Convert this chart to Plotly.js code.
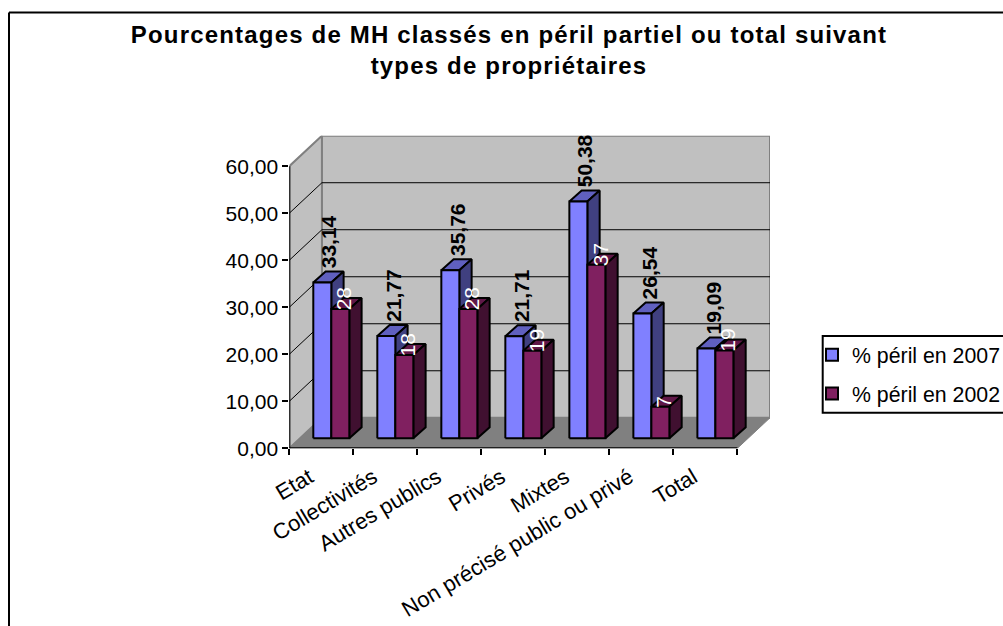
<!DOCTYPE html>
<html>
<head>
<meta charset="utf-8">
<script src="https://cdn.plot.ly/plotly-3.0.1.min.js"></script>
<style>html,body{margin:0;padding:0;background:#fff;overflow:hidden}#chart{width:1003px;height:626px}
.gtitle{letter-spacing:1.18px}</style>
</head>
<body>
<div id="chart"></div>
<script>
// ---------- data ----------
const categories = ["Etat","Collectivités","Autres publics","Privés","Mixtes","Non précisé public ou privé","Total"];
const values2007 = [33.14,21.77,35.76,21.71,50.38,26.54,19.09];
const values2002 = [27.5,17.7,27.5,18.6,36.9,6.7,18.7];
const labels2002 = ["28","18","28","19","37","7","19"];
const seriesNames = ["% péril en 2007","% péril en 2002"];
const yTicks = [0,10,20,30,40,50,60];
const yTickLabels = ["0,00","10,00","20,00","30,00","40,00","50,00","60,00"];
const titleText = "Pourcentages de MH classés en péril partiel ou total suivant<br>types de propriétaires";

// ---------- oblique projection, in axis units ----------
const W = 1003, H = 626;
const plotL = 289.3, plotR = 770, plotB = 448.3, plotT = 135.7;
const wallDx = 32.6/64, wallDy = 30.5/4.7;
const yMax = 60;
const barW = 18/64, barDx = 12.3/64, barDy = 11/4.7, baseX = 10/64, baseY = 10/4.7;
const n = categories.length;

function polys(list){
  const x=[],y=[];
  list.forEach(p=>{p.forEach(q=>{x.push(q[0]);y.push(q[1]);});x.push(p[0][0],null);y.push(p[0][1],null);});
  return {x,y};
}
function face(list,fill,lineColor,lineWidth){
  const p=polys(list);
  return {type:'scatter',mode:'lines',x:p.x,y:p.y,fill:'toself',fillcolor:fill,
    line:{color:lineColor,width:lineWidth},showlegend:false,hoverinfo:'skip',cliponaxis:false,connectgaps:false};
}
function seg(xs,ys,color,width){
  return {type:'scatter',mode:'lines',x:xs,y:ys,line:{color:color,width:width},showlegend:false,hoverinfo:'skip',cliponaxis:false};
}
const traces=[];
// walls and floor
traces.push(face([[[wallDx,wallDy],[n+wallDx,wallDy],[n+wallDx,yMax+wallDy],[wallDx,yMax+wallDy]]],'#C0C0C0','#808080',2));
traces.push(face([[[0,0],[wallDx,wallDy],[wallDx,yMax+wallDy],[0,yMax]]],'#C0C0C0','#808080',2));
traces.push(face([[[0,0],[n,0],[n+wallDx,wallDy],[wallDx,wallDy]]],'#808080','#808080',1));
// gridlines
yTicks.slice(1,-1).forEach(t=>{
  traces.push(seg([0,wallDx,n+wallDx],[t,t+wallDy,t+wallDy],'#000000',1));
});
// bars
function barFaces(vals,shift,front,topC,sideC){
  const tops=[],sides=[],fronts=[];
  vals.forEach((v,i)=>{
    const a=i+0.5+baseX+shift, b=a+barW, y0=baseY, y1=baseY+v;
    fronts.push([[a,y0],[b,y0],[b,y1],[a,y1]]);
    tops.push([[a,y1],[b,y1],[b+barDx,y1+barDy],[a+barDx,y1+barDy]]);
    sides.push([[b,y0],[b+barDx,y0+barDy],[b+barDx,y1+barDy],[b,y1]]);
  });
  traces.push(face(tops,topC,'#000000',2));
  traces.push(face(sides,sideC,'#000000',2));
  traces.push(face(fronts,front,'#000000',2));
}
barFaces(values2007,-barW,'#8080FF','#6060BF','#404080');
barFaces(values2002,0,'#802060','#601848','#401030');
// front axis lines
traces.push(seg([0,0],[0,yMax],'#000000',2));
traces.push(seg([0,n],[0,0],'#000000',2));
// legend keys
function key(label,color,group){
  return {type:'scatter',mode:'markers',x:[null],y:[null],name:label,legendgroup:group,showlegend:true,
    marker:{symbol:'square',size:12,color:color,line:{color:'#000000',width:2}},hoverinfo:'skip'};
}
traces.push(key(seriesNames[0],'#8080FF','a'));
traces.push(key(seriesNames[1],'#802060','b'));

// data labels
const annos=[];
values2007.forEach((v,i)=>{
  annos.push({x:i+0.5+baseX-2/64,y:v+baseY+13/4.7,xref:'x',yref:'y',text:'<b>'+v.toFixed(2).replace('.',',')+'</b>',
    textangle:-90,showarrow:false,xanchor:'center',yanchor:'bottom',borderpad:0,
    font:{family:'Liberation Sans, Arial, sans-serif',size:21,color:'#000000'}});
});
values2002.forEach((v,i)=>{
  annos.push({x:i+0.5+baseX+barW/2+3.5/64,y:v+baseY-2/4.7,xref:'x',yref:'y',text:labels2002[i],
    textangle:-90,showarrow:false,xanchor:'center',yanchor:'bottom',borderpad:0,
    font:{family:'Liberation Sans, Arial, sans-serif',size:21,color:'#FFFFFF'}});
});

const px=v=>v/W, py=v=>1-v/H;
const layout={
  width:W,height:H,
  margin:{l:0,r:0,t:0,b:0,pad:0,autoexpand:false},
  paper_bgcolor:'#FFFFFF',plot_bgcolor:'rgba(0,0,0,0)',
  font:{family:'Liberation Sans, Arial, sans-serif',color:'#000000',size:21},
  title:{text:titleText,x:509/W,xanchor:'center',y:1-43/H,yanchor:'top',
    font:{family:'Liberation Sans, Arial, sans-serif',size:24,weight:700,color:'#000000'}},
  xaxis:{domain:[px(plotL),px(plotR)],range:[0,n+wallDx],showgrid:false,zeroline:false,showline:false,
    tickmode:'array',tickvals:categories.map((c,i)=>i+0.5),ticktext:categories,tickangle:-31,ticks:'',
    ticklabelstandoff:11,ticklabelshift:-12,
    tickfont:{size:22},fixedrange:true,
    minor:{tickmode:'array',tickvals:[0,1,2,3,4,5,6,7],ticks:'outside',ticklen:6,tickwidth:2,tickcolor:'#000000',showgrid:false}},
  yaxis:{domain:[py(plotB),py(plotT)],range:[0,yMax+wallDy],showgrid:false,zeroline:false,showline:false,
    tickmode:'array',tickvals:yTicks,ticktext:yTickLabels,ticks:'outside',ticklen:6,tickwidth:2,tickcolor:'#000000',
    tickfont:{size:21},fixedrange:true},
  legend:{x:px(812),y:py(334.5),xanchor:'left',yanchor:'top',bgcolor:'rgba(0,0,0,0)',borderwidth:0,
    font:{size:21.3},tracegroupgap:8,itemclick:false,itemdoubleclick:false},
  annotations:annos,
  shapes:[
    {type:'rect',xref:'paper',yref:'paper',x0:px(822.7),x1:px(1010),y0:py(336),y1:py(412.7),line:{color:'#000000',width:2},fillcolor:'rgba(0,0,0,0)'},
    {type:'line',xref:'paper',yref:'paper',x0:px(9),x1:1,y0:py(12.5),y1:py(12.5),line:{color:'#000000',width:2}},
    {type:'line',xref:'paper',yref:'paper',x0:px(9),x1:px(9),y0:py(12.5),y1:0,line:{color:'#000000',width:2}}
  ],
  showlegend:true
};
Plotly.newPlot('chart',traces,layout,{displayModeBar:false,responsive:false,staticPlot:true});
</script>
</body>
</html>
